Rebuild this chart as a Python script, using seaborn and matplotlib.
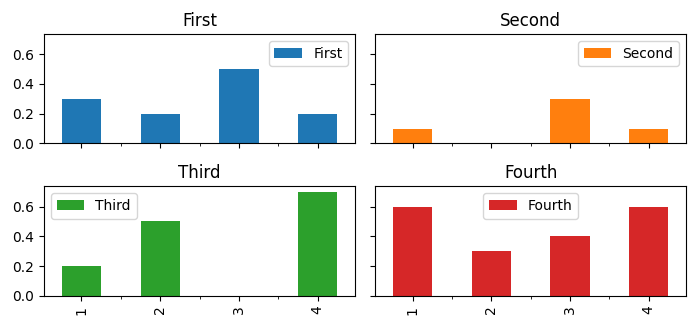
import matplotlib
matplotlib.use("Agg")
import matplotlib.pyplot as plt
import seaborn as sns
from matplotlib.ticker import FixedLocator

categories = ["1", "2", "3", "4"]
series_names = ["First", "Second", "Third", "Fourth"]
first = [0.3, 0.2, 0.5, 0.2]
second = [0.1, 0.0, 0.3, 0.1]
third = [0.2, 0.5, 0.0, 0.7]
fourth = [0.6, 0.3, 0.4, 0.6]
series_values = [first, second, third, fourth]
colors = ["#1f77b4", "#ff7f0e", "#2ca02c", "#d62728"]
legend_locs = ["upper right", "upper right", "upper left", "upper center"]

fig, axes = plt.subplots(2, 2, figsize=(7, 3.27), dpi=100, sharex=True, sharey=True)
fig.subplots_adjust(left=0.063, right=0.98, top=0.896, bottom=0.095, hspace=0.393, wspace=0.065)

for ax, name, vals, col, loc in zip(axes.flat, series_names, series_values, colors, legend_locs):
    sns.barplot(x=categories, y=vals, color=col, width=0.5, ax=ax, label=name,
                saturation=1, errorbar=None)
    ax.set_title(name, fontsize=12)
    ax.legend(loc=loc)
    ax.set_xlabel("")
    ax.set_ylabel("")
    ax.xaxis.set_minor_locator(FixedLocator([0.5, 1.5, 2.5]))

axes[0, 0].set_xlim(-0.475, 3.475)
axes[0, 0].set_ylim(0, 0.735)
axes[0, 0].set_yticks([0.0, 0.2, 0.4, 0.6])
for ax in axes[1]:
    ax.tick_params(axis="x", labelrotation=90)

fig.savefig("out.png", dpi=100)
